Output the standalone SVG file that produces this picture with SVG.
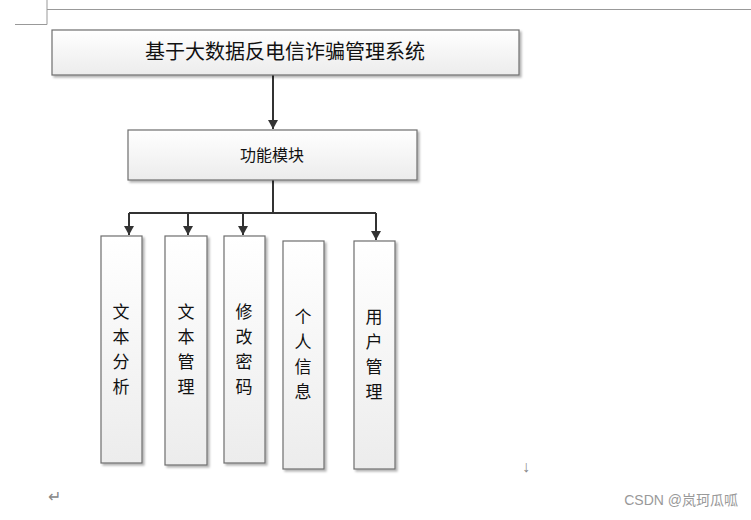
<svg xmlns="http://www.w3.org/2000/svg" width="751" height="520" viewBox="0 0 751 520">
<style>
.b{stroke:#6e6e6e;stroke-width:1.2;fill:url(#g);filter:url(#s)}
.t{font-family:"Noto Sans CJK SC","Liberation Sans",sans-serif;fill:#111}
.c{stroke:#333;stroke-width:2;fill:none}
.m{fill:#888;font-family:"Liberation Sans",sans-serif}
</style>
<defs>
<linearGradient id="g" x1="0" y1="0" x2="0" y2="1"><stop offset="0" stop-color="#fff"/><stop offset="1" stop-color="#ececec"/></linearGradient>
<filter id="s" x="-10%" y="-10%" width="130%" height="130%"><feDropShadow dx="2" dy="2" stdDeviation="1" flood-color="#000" flood-opacity="0.3"/></filter>
<marker id="a" markerWidth="10" markerHeight="10" refX="9" refY="5" orient="auto" markerUnits="userSpaceOnUse"><path d="M0,0 L9,5 L0,10 z" fill="#333"/></marker>
</defs>
<rect width="751" height="520" fill="#fff"/>
<g stroke="#999" stroke-width="1" fill="none">
<path d="M47,9.5H751M47,0V24.5H15"/>
</g>
<g id="connectors">
<path class="c" d="M273,75V129" marker-end="url(#a)"/>
<path class="c" d="M273,180V213M129,213H376"/>
<path class="c" d="M129,213V235" marker-end="url(#a)"/>
<path class="c" d="M188,213V235" marker-end="url(#a)"/>
<path class="c" d="M243,213V235" marker-end="url(#a)"/>
<path class="c" d="M376,213V240" marker-end="url(#a)"/>
</g>
<g id="n0"><rect class="b" x="52" y="30" width="467" height="45"/><text class="t" x="285" y="59" font-size="20" text-anchor="middle">基于大数据反电信诈骗管理系统</text></g>
<g id="n1"><rect class="b" x="128" y="130" width="289" height="50"/><text class="t" x="272" y="161" font-size="16" text-anchor="middle">功能模块</text></g>
<g id="n2"><rect class="b" x="101" y="236" width="41" height="227"/><text class="t" font-size="17" text-anchor="middle"><tspan x="121" y="318">文</tspan><tspan x="121" y="343">本</tspan><tspan x="121" y="368">分</tspan><tspan x="121" y="393">析</tspan></text></g>
<g id="n3"><rect class="b" x="165" y="236" width="42" height="229"/><text class="t" font-size="17" text-anchor="middle"><tspan x="186" y="318">文</tspan><tspan x="186" y="343">本</tspan><tspan x="186" y="368">管</tspan><tspan x="186" y="393">理</tspan></text></g>
<g id="n4"><rect class="b" x="224" y="236" width="41" height="227"/><text class="t" font-size="17" text-anchor="middle"><tspan x="244" y="318">修</tspan><tspan x="244" y="343">改</tspan><tspan x="244" y="368">密</tspan><tspan x="244" y="393">码</tspan></text></g>
<g id="n5"><rect class="b" x="283" y="241" width="41" height="228"/><text class="t" font-size="17" text-anchor="middle"><tspan x="303" y="323">个</tspan><tspan x="303" y="348">人</tspan><tspan x="303" y="373">信</tspan><tspan x="303" y="398">息</tspan></text></g>
<g id="n6"><rect class="b" x="354" y="241" width="41" height="228"/><text class="t" font-size="17" text-anchor="middle"><tspan x="374" y="323">用</tspan><tspan x="374" y="348">户</tspan><tspan x="374" y="373">管</tspan><tspan x="374" y="398">理</tspan></text></g>
<text class="m" x="48" y="502" font-size="16">↵</text>
<text class="m" x="522" y="472" font-size="16">↓</text>
<text x="738" y="505" font-size="14" text-anchor="end" fill="#999" font-family="'Liberation Sans','Noto Sans CJK SC',sans-serif">CSDN @岚珂瓜呱</text>
</svg>
